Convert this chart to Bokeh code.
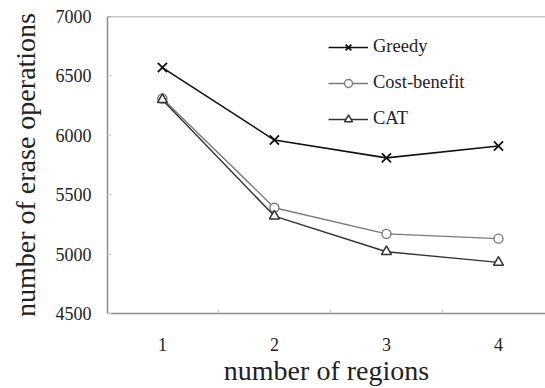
from bokeh.plotting import figure
from bokeh.models import FixedTicker, Legend, LegendItem, Span, Range1d
from bokeh.embed import file_html
from bokeh.resources import INLINE

regions = [1, 2, 3, 4]
greedy = [6570, 5960, 5810, 5910]
cost_benefit = [6310, 5390, 5170, 5130]
cat = [6300, 5320, 5020, 4930]
y_ticks = [4500, 5000, 5500, 6000, 6500, 7000]

FONT = "Liberation Serif"

p = figure(width=545, height=388, output_backend="svg", toolbar_location=None,
           x_range=Range1d(0.51, 4.42), y_range=Range1d(4500, 7000),
           min_border_left=107, min_border_right=0, min_border_top=16, min_border_bottom=75)
p.outline_line_color = None
p.grid.visible = False
p.background_fill_color = "white"
p.border_fill_color = "white"

p.add_layout(Span(location=7000, dimension="width", line_color="#8c8c8c", line_width=1.5))

# x axis
p.xaxis.ticker = FixedTicker(ticks=regions, minor_ticks=[1.5, 2.5, 3.5])
p.xaxis.major_tick_line_color = None
p.xaxis.minor_tick_in = 4
p.xaxis.minor_tick_out = 0
p.xaxis.minor_tick_line_color = "#cccccc"
p.xaxis.axis_line_color = "#8c8c8c"
p.xaxis.axis_line_width = 1.5
p.xaxis.major_label_text_font = FONT
p.xaxis.major_label_text_font_size = "18px"
p.xaxis.major_label_text_color = "#222222"
p.xaxis.major_label_standoff = 18
p.xaxis.axis_label = "number of regions"
p.xaxis.axis_label_text_font = FONT
p.xaxis.axis_label_text_font_size = "28px"
p.xaxis.axis_label_text_font_style = "normal"
p.xaxis.axis_label_text_color = "#222222"
p.xaxis.axis_label_standoff = 1

# y axis
p.yaxis.ticker = FixedTicker(ticks=y_ticks)
p.yaxis.major_tick_in = 4
p.yaxis.major_tick_out = 0
p.yaxis.major_tick_line_color = "#cccccc"
p.yaxis.minor_tick_line_color = None
p.yaxis.axis_line_color = "#8c8c8c"
p.yaxis.axis_line_width = 1.5
p.yaxis.major_label_text_font = FONT
p.yaxis.major_label_text_font_size = "18px"
p.yaxis.major_label_text_color = "#222222"
p.yaxis.major_label_standoff = 16
p.yaxis.axis_label = "number of erase operations"
p.yaxis.axis_label_text_font = FONT
p.yaxis.axis_label_text_font_size = "28px"
p.yaxis.axis_label_text_font_style = "normal"
p.yaxis.axis_label_text_color = "#222222"
p.yaxis.axis_label_standoff = 12

# series
g_line = p.line(regions, greedy, line_color="#111111", line_width=1.6)
g_mark = p.scatter(regions, greedy, marker="x", size=13, line_color="#111111", line_width=1.8)
c_line = p.line(regions, cost_benefit, line_color="#7a7a7a", line_width=1.4)
c_mark = p.scatter(regions, cost_benefit, marker="circle", size=9, line_color="#7a7a7a",
                   fill_color="white", line_width=1.4)
t_line = p.line(regions, cat, line_color="#333333", line_width=1.4)
t_mark = p.scatter(regions, cat, marker="triangle", size=10, line_color="#333333",
                   fill_color="white", line_width=1.5)

legend = Legend(items=[
    LegendItem(label="Greedy", renderers=[g_line, g_mark]),
    LegendItem(label="Cost-benefit", renderers=[c_line, c_mark]),
    LegendItem(label="CAT", renderers=[t_line, t_mark]),
], location=(221, 184))
legend.glyph_width = 40
legend.glyph_height = 20
legend.label_height = 20
legend.spacing = 15
legend.padding = 0
legend.margin = 0
legend.label_standoff = 5
legend.label_text_font = FONT
legend.label_text_font_size = "18.5px"
legend.label_text_color = "#222222"
legend.border_line_color = None
legend.background_fill_alpha = 0
p.add_layout(legend, "center")

open("out.html", "w").write(file_html(p, INLINE))
